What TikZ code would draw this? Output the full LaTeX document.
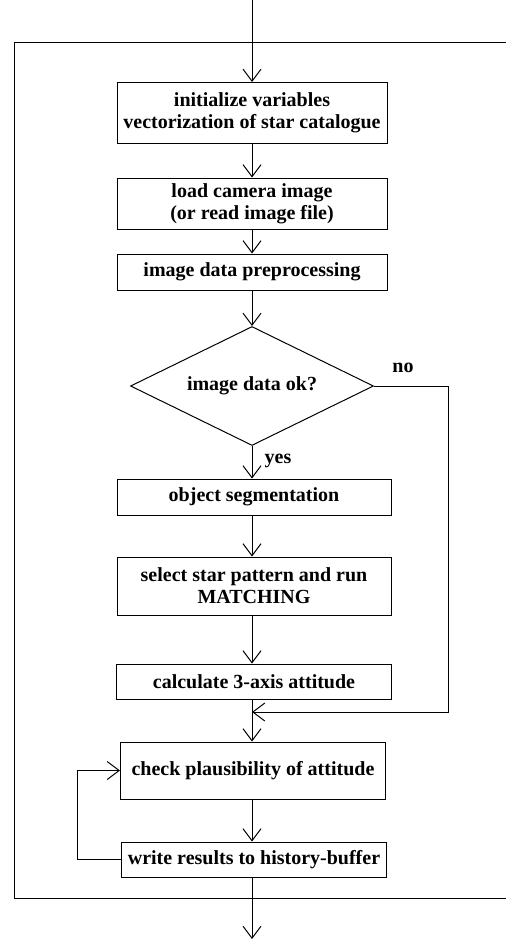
\documentclass[tikz,border=0pt]{standalone}
\usepackage{fontspec}
\setmainfont{Liberation Serif}
\usetikzlibrary{arrows.meta,positioning,shapes.geometric,calc}

\begin{document}
\begin{tikzpicture}[x=1pt, y=-1pt, line width=1pt,
    box/.style={rectangle, draw, minimum width=270pt, inner sep=2pt, font=\fontsize{20}{22}\selectfont\bfseries, align=center},
    decision/.style={diamond, draw, minimum width=243pt, minimum height=119pt, inner sep=0pt, aspect=2, font=\fontsize{20}{22}\selectfont\bfseries},
    lbl/.style={font=\fontsize{20}{22}\selectfont\bfseries},
    arrow/.style={-{Straight Barb[length=12pt, width=18pt]}}
]
    \useasboundingbox (0,0) rectangle (506,939);

    % Outer frame
    \draw (506,43) -- (14,43) -- (14,898) -- (506,898);

    % Entry and exit points
    \coordinate (in) at (252,0);
    \coordinate (out) at (252,939);

    % Boxes
    \node[box, minimum height=61pt] (init) at (252,113) {initialize variables \\ vectorization of star catalogue};
    \node[box, minimum height=51pt] (load) at (252,203.5) {load camera image \\ (or read image file)};
    \node[box, minimum height=36pt] (prep) at (252,272) {image data preprocessing};
    \node[decision] (check) at (252,386) {image data ok?};
    \node[box, minimum width=274pt, minimum height=36pt] (seg) at (254,497) {object segmentation};
    \node[box, minimum width=274pt, minimum height=58pt] (match) at (254,586) {select star pattern and run \\ MATCHING};
    \node[box, minimum width=275pt, minimum height=35pt] (att) at (254,681.5) {calculate 3-axis attitude};
    \coordinate (merge) at (252,712);
    \node[box, minimum width=265pt, minimum height=57pt] (plaus) at (253,770.5) {check plausibility of attitude};
    \node[box, minimum width=265pt, minimum height=35pt] (hist) at (254,859.5) {write results to history-buffer};

    % Arrows
    \draw[arrow] (in) -- (in |- init.north);
    \draw[arrow] (init.south -| in) -- (in |- load.north);
    \draw[arrow] (load.south -| in) -- (in |- prep.north);
    \draw[arrow] (prep.south -| in) -- (check.north);
    \draw[arrow] (check.south) -- (check.south |- seg.north);
    \draw[arrow] (seg.south -| check.south) -- (check.south |- match.north);
    \draw[arrow] (match.south -| check.south) -- (check.south |- att.north);
    \draw (att.south -| merge) -- (merge);
    \draw[arrow] (merge) -- (merge |- plaus.north);
    \draw[arrow] (plaus.south -| merge) -- (merge |- hist.north);
    \draw[arrow] (hist.south -| out) -- (out);

    % No branch and history loop
    \draw[arrow] (check.east) -- ++(74,0) |- (merge);
    \draw[arrow] (hist.west) -- ++(-44,0) |- (plaus.west);

    % Labels
    \node[lbl] (no) at (403,368) {no};
    \node[lbl] (yes) at (278,461) {yes};
\end{tikzpicture}
\end{document}
